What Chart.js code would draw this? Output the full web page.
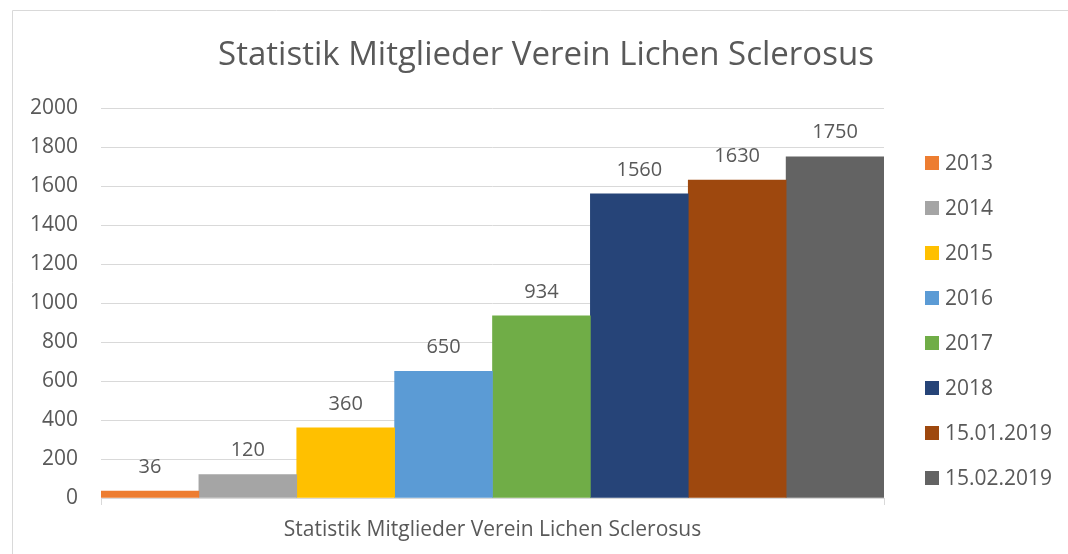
<!DOCTYPE html>
<html>
<head>
<meta charset="utf-8">
<script src="https://cdn.jsdelivr.net/npm/chart.js@4/dist/chart.umd.min.js"></script>
<style>
html,body{margin:0;padding:0;background:#fff;}
#wrap{position:relative;width:1068px;height:554px;}
</style>
</head>
<body>
<div id="wrap"><canvas id="c" width="1068" height="554"></canvas></div>
<script>
const chartTitle = "Statistik Mitglieder Verein Lichen Sclerosus";
const categories = ["Statistik Mitglieder Verein Lichen Sclerosus"];
const seriesNames = ["2013","2014","2015","2016","2017","2018","15.01.2019","15.02.2019"];
const seriesValues = [36,120,360,650,934,1560,1630,1750];
const seriesColors = ["#ED7D31","#A5A5A5","#FFC000","#5B9BD5","#70AD47","#264478","#9E480E","#636363"];
const yMin = 0, yMax = 2000, yStep = 200;

const FONT = "'Open Sans', 'DejaVu Sans', sans-serif";
const TXT = "#595959";
const GRID = "#d9d9d9";

const decor = {
  id: 'decor',
  beforeDraw(chart) {
    const ctx = chart.ctx;
    ctx.save();
    ctx.strokeStyle = GRID;
    ctx.lineWidth = 1;
    ctx.beginPath();
    ctx.moveTo(12.5, 554); ctx.lineTo(12.5, 10.5); ctx.lineTo(1068, 10.5);
    ctx.stroke();
    ctx.restore();
  },
  afterDraw(chart) {
    const ctx = chart.ctx;
    ctx.save();
    ctx.fillStyle = TXT;
    ctx.font = "33px " + FONT;
    ctx.textAlign = 'center';
    ctx.textBaseline = 'middle';
    ctx.fillText(chartTitle, 546, 56);
    ctx.font = "20px " + FONT;
    ctx.textBaseline = 'bottom';
    chart.data.datasets.forEach((ds, i) => {
      const meta = chart.getDatasetMeta(i);
      meta.data.forEach((bar, j) => {
        ctx.fillText(String(ds.data[j]), bar.x, bar.y - 14);
      });
    });
    ctx.font = "21px " + FONT;
    ctx.textAlign = 'left';
    ctx.textBaseline = 'middle';
    chart.data.datasets.forEach((ds, i) => {
      const cy = 163 + 45 * i;
      ctx.fillStyle = ds.backgroundColor;
      ctx.fillRect(925, cy - 7, 14, 14);
      ctx.fillStyle = TXT;
      ctx.fillText(ds.label, 945, cy + 1);
    });
    ctx.restore();
  }
};

new Chart(document.getElementById('c'), {
  type: 'bar',
  data: {
    labels: categories,
    datasets: seriesNames.map((n, i) => ({
      label: n,
      data: [seriesValues[i]],
      backgroundColor: seriesColors[i],
      borderWidth: 0,
      barPercentage: 1,
      categoryPercentage: 1
    }))
  },
  options: {
    responsive: false,
    animation: false,
    devicePixelRatio: 1,
    layout: { padding: { top: 108, right: 184, left: 0, bottom: 0 } },
    plugins: { legend: { display: false }, title: { display: false }, tooltip: { enabled: false } },
    scales: {
      x: {
        grid: { display: true, drawOnChartArea: false, drawTicks: true, tickLength: 7, color: GRID, offset: true },
        border: { display: true, color: GRID },
        ticks: { color: TXT, font: { family: FONT, size: 21 }, padding: 12 },
        afterFit(s) { s.height = 56; }
      },
      y: {
        min: yMin, max: yMax,
        grid: { color: GRID, drawTicks: false },
        border: { display: false },
        ticks: { stepSize: yStep, color: TXT, font: { family: FONT, size: 21 }, padding: 23,
                 callback: (v) => String(v) },
        afterFit(s) { s.width = 101; }
      }
    }
  },
  plugins: [decor]
});
</script>
</body>
</html>
